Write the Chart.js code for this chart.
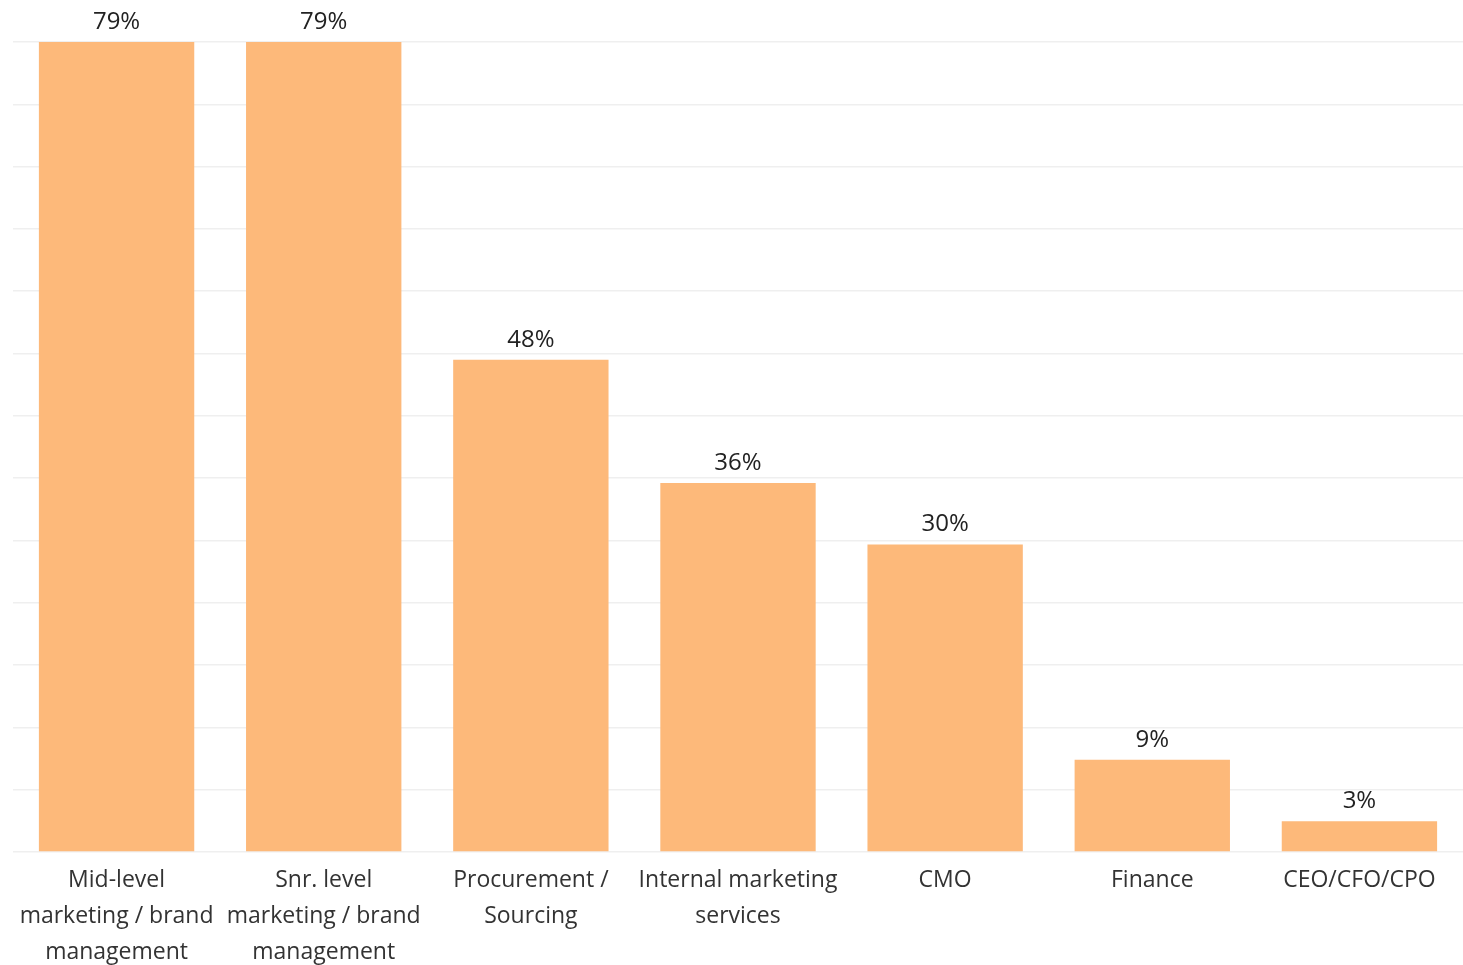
<!DOCTYPE html>
<html>
<head>
<meta charset="utf-8">
<title>Roles</title>
<script src="https://cdn.jsdelivr.net/npm/chart.js@4.4.1/dist/chart.umd.min.js"></script>
<style>
    html, body { margin: 0; padding: 0; background: #fff; }
    #wrap { width: 1463px; height: 965px; position: relative; }
</style>
</head>
<body>
<div id="wrap"><canvas id="rolesChart"></canvas></div>
<script>
// Chart data
const categories = [
    ['Mid-level', 'marketing / brand', 'management'],
    ['Snr. level', 'marketing / brand', 'management'],
    ['Procurement /', 'Sourcing'],
    ['Internal marketing', 'services'],
    'CMO',
    'Finance',
    'CEO/CFO/CPO'
];
const shares = [79, 79, 48, 36, 30, 9, 3];
const axisMax = 79;
const gridCount = 14;

/**
 * Draws the percentage text above every bar
 */
const valueLabels = {
    id: 'valueLabels',
    afterDatasetsDraw(chart) {
        const ctx = chart.ctx;
        const meta = chart.getDatasetMeta(0);
        ctx.save();
        ctx.font = '24px "Open Sans"';
        ctx.fillStyle = '#222';
        ctx.textAlign = 'center';
        ctx.textBaseline = 'middle';
        meta.data.forEach((bar, i) => {
            ctx.fillText(shares[i] + '%', bar.x, bar.y - 20);
        });
        ctx.restore();
    }
};

const ctx = document.getElementById('rolesChart').getContext('2d');
new Chart(ctx, {
    type: 'bar',
    data: {
        labels: categories,
        datasets: [{
            data: shares,
            backgroundColor: '#FDB97A',
            borderWidth: 0,
            categoryPercentage: 1,
            barPercentage: 0.75
        }]
    },
    options: {
        responsive: true,
        maintainAspectRatio: false,
        animation: false,
        layout: {
            padding: { left: 13, right: 0, top: 42, bottom: 0 }
        },
        plugins: {
            legend: { display: false },
            tooltip: { enabled: false }
        },
        scales: {
            x: {
                grid: { display: false },
                border: { display: false },
                ticks: {
                    color: '#333',
                    font: { family: 'Open Sans', size: 23, lineHeight: 1.55 },
                    padding: 3,
                    maxRotation: 0,
                    autoSkip: false
                },
                // keep the plot bottom at the same place as the reference
                afterFit(scale) {
                    scale.height = 113;
                }
            },
            y: {
                min: 0,
                max: axisMax,
                border: { display: false },
                grid: {
                    color: '#EFEFEF',
                    lineWidth: 1.5,
                    drawTicks: false
                },
                ticks: {
                    display: false,
                    count: gridCount
                }
            }
        }
    },
    plugins: [valueLabels]
});
</script>
</body>
</html>
